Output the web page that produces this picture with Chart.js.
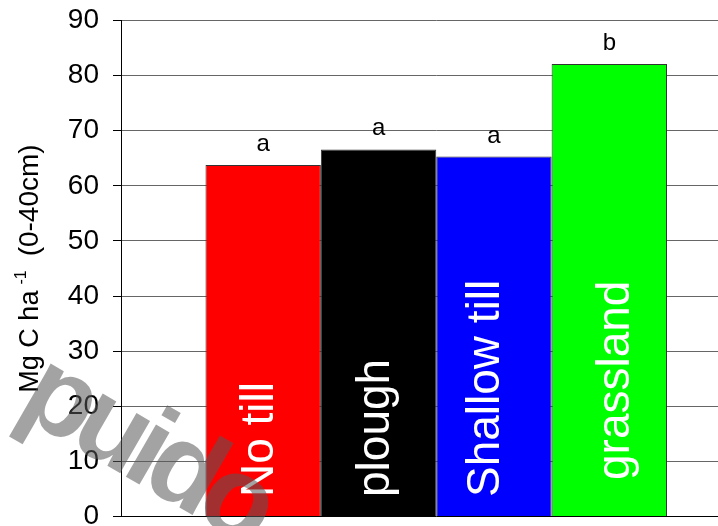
<!DOCTYPE html>
<html>
<head>
    <title>Soil carbon stocks by land use</title>
    <script src="https://cdn.jsdelivr.net/npm/chart.js"></script>
    <style>
        html, body {
            margin: 0;
            padding: 0;
            overflow: hidden;
            background: #fff;
        }
        #stockChart {
            display: block;
        }
    </style>
</head>
<body>
    <canvas id="stockChart" width="760" height="550"></canvas>

    <script>
        // Carbon stock (Mg C / ha, 0-40 cm) per management
        const categories = ['No till', 'plough', 'Shallow till', 'grassland'];
        const carbonStocks = [63.8, 66.6, 65.3, 82.1];
        const groupLetters = ['a', 'a', 'a', 'b'];
        const barColours = ['#ff0000', '#000000', '#0000ff', '#00ff00'];

        const FONT = "'Liberation Sans', Arial, sans-serif";
        // hand placement of the names: [dx, extra lift] in px
        const nameShift = [[0, 0], [0, 0], [-5, 0], [10, 17]];

        // White rotated names inside each bar, letters above
        const barText = {
            id: 'barText',
            afterDatasetsDraw(chart) {
                const ctx = chart.ctx;
                chart.data.datasets.forEach((ds, i) => {
                    const bar = chart.getDatasetMeta(i).data[0];
                    ctx.save();
                    ctx.fillStyle = '#000';
                    ctx.font = '24px ' + FONT;
                    ctx.textAlign = 'center';
                    ctx.textBaseline = 'alphabetic';
                    ctx.fillText(groupLetters[i], bar.x, bar.y - 14);

                    ctx.translate(bar.x + 10 + nameShift[i][0], bar.base - 19 - nameShift[i][1]);
                    ctx.rotate(-Math.PI / 2);
                    ctx.fillStyle = '#fff';
                    ctx.font = '46px ' + FONT;
                    ctx.textAlign = 'left';
                    ctx.fillText(ds.label, 0, 0);
                    ctx.restore();
                });
            }
        };

        // y title with a raised -1
        const yTitle = {
            id: 'yTitle',
            afterDraw(chart) {
                const ctx = chart.ctx;
                const area = chart.chartArea;
                const parts = [
                    { t: 'Mg C ha', size: 27, rise: 0, gap: 6 },
                    { t: '-1', size: 16, rise: 12, gap: 14 },
                    { t: '(0-40cm)', size: 28, rise: 0, gap: 0 }
                ];
                ctx.save();
                let total = 0;
                parts.forEach(p => {
                    ctx.font = p.size + 'px ' + FONT;
                    p.w = ctx.measureText(p.t).width;
                    total += p.w + p.gap;
                });
                ctx.translate(37.5, (area.top + area.bottom) / 2);
                ctx.rotate(-Math.PI / 2);
                ctx.fillStyle = '#000';
                ctx.textBaseline = 'alphabetic';
                let x = -total / 2;
                parts.forEach(p => {
                    ctx.font = p.size + 'px ' + FONT;
                    ctx.fillText(p.t, x, -p.rise);
                    x += p.w + p.gap;
                });
                ctx.restore();
            }
        };

        // grey stamp across the lower left
        const stamp = {
            id: 'stamp',
            afterDraw(chart) {
                const ctx = chart.ctx;
                ctx.save();
                ctx.translate(14, 412);
                ctx.rotate(30 * Math.PI / 180);
                ctx.fillStyle = 'rgba(88, 88, 88, 0.55)';
                ctx.font = 'bold 114px ' + FONT;
                ctx.letterSpacing = '-9px';
                ctx.textBaseline = 'alphabetic';
                ctx.fillText('puido', 0, 0);
                ctx.restore();
            }
        };

        const ctx = document.getElementById('stockChart').getContext('2d');
        new Chart(ctx, {
            type: 'bar',
            data: {
                labels: [''],
                datasets: categories.map((name, i) => ({
                    label: name,
                    data: [carbonStocks[i]],
                    backgroundColor: barColours[i],
                    borderColor: '#333',
                    borderWidth: 1,
                    barPercentage: 1,
                    categoryPercentage: 0.732
                }))
            },
            options: {
                responsive: false,
                animation: false,
                layout: {
                    padding: { left: 0, right: 8.5, top: 20.5, bottom: 33.5 }
                },
                scales: {
                    x: {
                        display: false
                    },
                    y: {
                        min: 0,
                        max: 90,
                        afterFit(scale) {
                            scale.width = 121;
                            scale.paddingTop = 0;
                            scale.paddingBottom = 0;
                        },
                        ticks: {
                            stepSize: 10,
                            padding: 14,
                            color: '#000',
                            font: { family: FONT, size: 28 }
                        },
                        grid: {
                            color: c => (c.tick && c.tick.value === 0 ? '#000' : '#666'),
                            tickColor: '#000',
                            tickLength: 8,
                            lineWidth: 1
                        },
                        border: { color: '#000', width: 1 }
                    }
                },
                plugins: {
                    legend: { display: false },
                    tooltip: { enabled: false }
                }
            },
            plugins: [barText, yTitle, stamp]
        });
    </script>
</body>
</html>
